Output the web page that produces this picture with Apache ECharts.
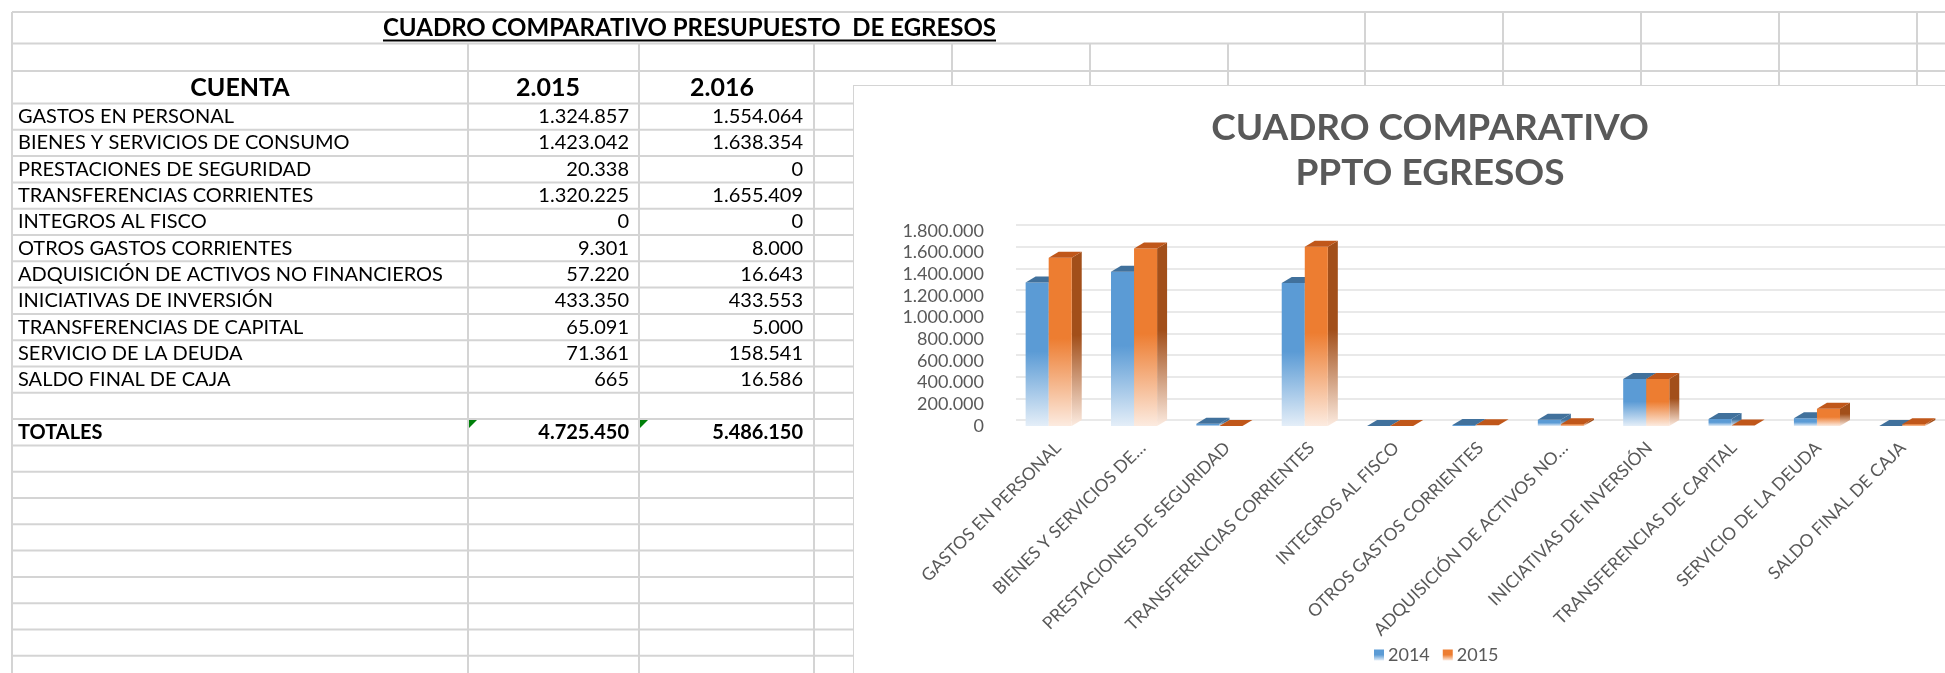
<!DOCTYPE html>
<html>
<head>
<meta charset="utf-8">
<script src="https://cdn.jsdelivr.net/npm/echarts@6/dist/echarts.min.js"></script>
<style>
html, body { margin: 0; padding: 0; background: #fff; overflow: hidden; }
#hoja { position: absolute; left: 0; top: 0; width: 1945px; height: 673px; }
#grafico { position: absolute; left: 853px; top: 85px; width: 1092px; height: 588px;
  box-sizing: border-box; border-left: 1px solid #d4d4d4; border-top: 1px solid #d4d4d4; background: #fff; }
</style>
</head>
<body>
<div id="hoja"></div>
<div id="grafico"></div>
<script>
// datos de la hoja
const cuentas = [
  "GASTOS EN PERSONAL",
  "BIENES Y SERVICIOS DE CONSUMO",
  "PRESTACIONES DE SEGURIDAD",
  "TRANSFERENCIAS CORRIENTES",
  "INTEGROS AL FISCO",
  "OTROS GASTOS CORRIENTES",
  "ADQUISICIÓN DE ACTIVOS NO FINANCIEROS",
  "INICIATIVAS DE INVERSIÓN",
  "TRANSFERENCIAS DE CAPITAL",
  "SERVICIO DE LA DEUDA",
  "SALDO FINAL DE CAJA"
];
const valores2015 = [1324857, 1423042, 20338, 1320225, 0, 9301, 57220, 433350, 65091, 71361, 665];
const valores2016 = [1554064, 1638354, 0, 1655409, 0, 8000, 16643, 433553, 5000, 158541, 16586];
const columnas = ["CUENTA", "2.015", "2.016"];
const leyenda = ["2014", "2015"];   // nombres de las series en el grafico
const ejeY = { min: 0, max: 1800000, interval: 200000 };

const FUENTE = 'Lato, "Open Sans", sans-serif';
const fmt = (n) => String(n).replace(/\B(?=(\d{3})+(?!\d))/g, ".");
const suma = (a) => a.reduce((s, v) => s + v, 0);

// ---------- hoja de calculo ----------
const hoja = echarts.init(document.getElementById("hoja"));
const els = [];
const GRIS = "#d4d4d4";
function linea(x1, y1, x2, y2) {
  els.push({ type: "line", silent: true, shape: { x1, y1, x2, y2 }, style: { stroke: GRIS, lineWidth: 2 } });
}
function texto(t, x, y, size, bold, align) {
  els.push({
    type: "text", silent: true, x: x, y: y,
    style: { text: t, font: (bold ? "bold " : "") + size + "px " + FUENTE, fill: "#000",
      align: align, textAlign: align, verticalAlign: "middle", textVerticalAlign: "middle" }
  });
}

const PASO = 26.3, FILA0 = 103.5;
const filas = [12, 43.5, 71, FILA0];
for (let k = 1; FILA0 + k * PASO < 680; k++) filas.push(FILA0 + k * PASO);
filas.forEach((y) => linea(12, y, 1945, y));
linea(12, 12, 12, 673);
[468, 639, 814, 952, 1090, 1228].forEach((x) => linea(x, 43.5, x, 673));
[1365, 1503, 1641, 1779, 1917].forEach((x) => linea(x, 12, x, 673));

// titulo subrayado
const titulo = "CUADRO COMPARATIVO PRESUPUESTO  DE EGRESOS";
const fTitulo = "bold 24px " + FUENTE;
const ctx = document.createElement("canvas").getContext("2d");
ctx.font = fTitulo;
const anchoT = ctx.measureText(titulo).width;
texto(titulo, 689.5, 28, 24, true, "center");
els.push({ type: "line", silent: true,
  shape: { x1: 689.5 - anchoT / 2, y1: 40.5, x2: 689.5 + anchoT / 2, y2: 40.5 },
  style: { stroke: "#000", lineWidth: 2 } });

// encabezados
texto(columnas[0], 240, 87.5, 25, true, "center");
texto(columnas[1], 548, 87.5, 25, true, "center");
texto(columnas[2], 722, 87.5, 25, true, "center");

const centro = (k) => FILA0 + PASO * (k + 0.5);
cuentas.forEach((c, k) => {
  texto(c, 18, centro(k), 20, false, "left");
  texto(fmt(valores2015[k]), 629, centro(k), 20, false, "right");
  texto(fmt(valores2016[k]), 803, centro(k), 20, false, "right");
});
const kt = cuentas.length + 1;
texto("TOTALES", 18, centro(kt), 20, true, "left");
texto(fmt(suma(valores2015)), 629, centro(kt), 20, true, "right");
texto(fmt(suma(valores2016)), 803, centro(kt), 20, true, "right");
const yt = FILA0 + PASO * kt + 1;
[469, 640].forEach((x) => els.push({ type: "polygon", silent: true,
  shape: { points: [[x, yt], [x + 8, yt], [x, yt + 8]] }, style: { fill: "#00800a" } }));

hoja.setOption({ animation: false, graphic: { elements: els } });

// ---------- grafico ----------
const grafico = echarts.init(document.getElementById("grafico"));
const X0 = 152, ANCHO = 940, TOPE = 145, ALTO = 195, DX = 10, DY = 6;

function degradado(c, claro) {
  return new echarts.graphic.LinearGradient(0, 0, 0, 1, [
    { offset: 0, color: c }, { offset: 0.48, color: c }, { offset: 1, color: claro }
  ]);
}
function barra3D(frente, tapa, lado, claro, desplaz) {
  return function (params, api) {
    const i = api.value(0), v = api.value(1);
    const p0 = api.coord([i, 0]);
    const p1 = api.coord([i, v]);
    const w = api.size([1, 0])[0] * 0.27;
    const x0 = p0[0] + desplaz * w, x1 = x0 + w;
    const yT = p1[1], yB = p0[1];
    const hijos = [];
    if (yB - yT >= 1) {
      hijos.push({ type: "polygon", shape: { points: [[x1, yT], [x1 + DX, yT - DY], [x1 + DX, yB - DY], [x1, yB]] },
        style: { fill: degradado(lado, claro) } });
      hijos.push({ type: "rect", shape: { x: x0, y: yT, width: w, height: yB - yT },
        style: { fill: degradado(frente, claro) } });
    }
    hijos.push({ type: "polygon", shape: { points: [[x0, yT], [x0 + DX, yT - DY], [x1 + DX, yT - DY], [x1, yT]] },
      style: { fill: tapa } });
    return { type: "group", children: hijos };
  };
}

const recortar = (t) => (t.length > 26 ? t.slice(0, t.lastIndexOf(" ", 26)) + "…" : t);
const etiqueta = { color: "#595959", fontFamily: FUENTE };

grafico.setOption({
  animation: false,
  graphic: [
    { type: "text", x: 576, y: 42, style: { text: "CUADRO COMPARATIVO", font: "bold 37px " + FUENTE, fill: "#595959",
      align: "center", textAlign: "center", verticalAlign: "middle", textVerticalAlign: "middle" } },
    { type: "text", x: 576, y: 87, style: { text: "PPTO EGRESOS", font: "bold 37px " + FUENTE, fill: "#595959",
      align: "center", textAlign: "center", verticalAlign: "middle", textVerticalAlign: "middle" } }
  ],
  legend: {
    data: leyenda, left: 515, top: 555, icon: "rect", itemWidth: 10, itemHeight: 11, itemGap: 13,
    textStyle: Object.assign({ fontSize: 18, padding: [0, 0, 0, -1] }, etiqueta)
  },
  grid: [
    { left: X0, top: TOPE, width: ANCHO, height: ALTO },
    { left: X0 + DX, top: TOPE - DY, width: ANCHO, height: ALTO }
  ],
  xAxis: [
    { type: "category", gridIndex: 0, data: cuentas, show: false },
    { type: "category", gridIndex: 1, data: cuentas, axisLine: { show: false }, axisTick: { show: false },
      axisLabel: Object.assign({ rotate: 45, interval: 0, margin: 25, fontSize: 17.5, hideOverlap: false,
        formatter: recortar }, etiqueta) }
  ],
  yAxis: [
    { type: "value", gridIndex: 0, min: ejeY.min, max: ejeY.max, interval: ejeY.interval,
      axisLine: { show: false }, axisTick: { show: false }, splitLine: { show: false },
      axisLabel: Object.assign({ margin: 22, fontSize: 18, formatter: fmt }, etiqueta) },
    { type: "value", gridIndex: 1, min: ejeY.min, max: ejeY.max, interval: ejeY.interval,
      axisLine: { show: false }, axisTick: { show: false }, axisLabel: { show: false },
      splitLine: { lineStyle: { color: "#e9e9e9", width: 2 } } }
  ],
  series: [
    { name: leyenda[0], type: "custom", xAxisIndex: 0, yAxisIndex: 0, clip: false,
      itemStyle: { color: degradado("#5b9bd5", "#e4eef8") },
      renderItem: barra3D("#5b9bd5", "#41719c", "#41719c", "#e4eef8", -1),
      encode: { x: 0, y: 1 }, data: valores2015.map((v, i) => [i, v]) },
    { name: leyenda[1], type: "custom", xAxisIndex: 0, yAxisIndex: 0, clip: false,
      itemStyle: { color: degradado("#ed7d31", "#fcebe0") },
      renderItem: barra3D("#ed7d31", "#c0571a", "#a24f1a", "#fcebe0", 0),
      encode: { x: 0, y: 1 }, data: valores2016.map((v, i) => [i, v]) }
  ]
});
</script>
</body>
</html>
